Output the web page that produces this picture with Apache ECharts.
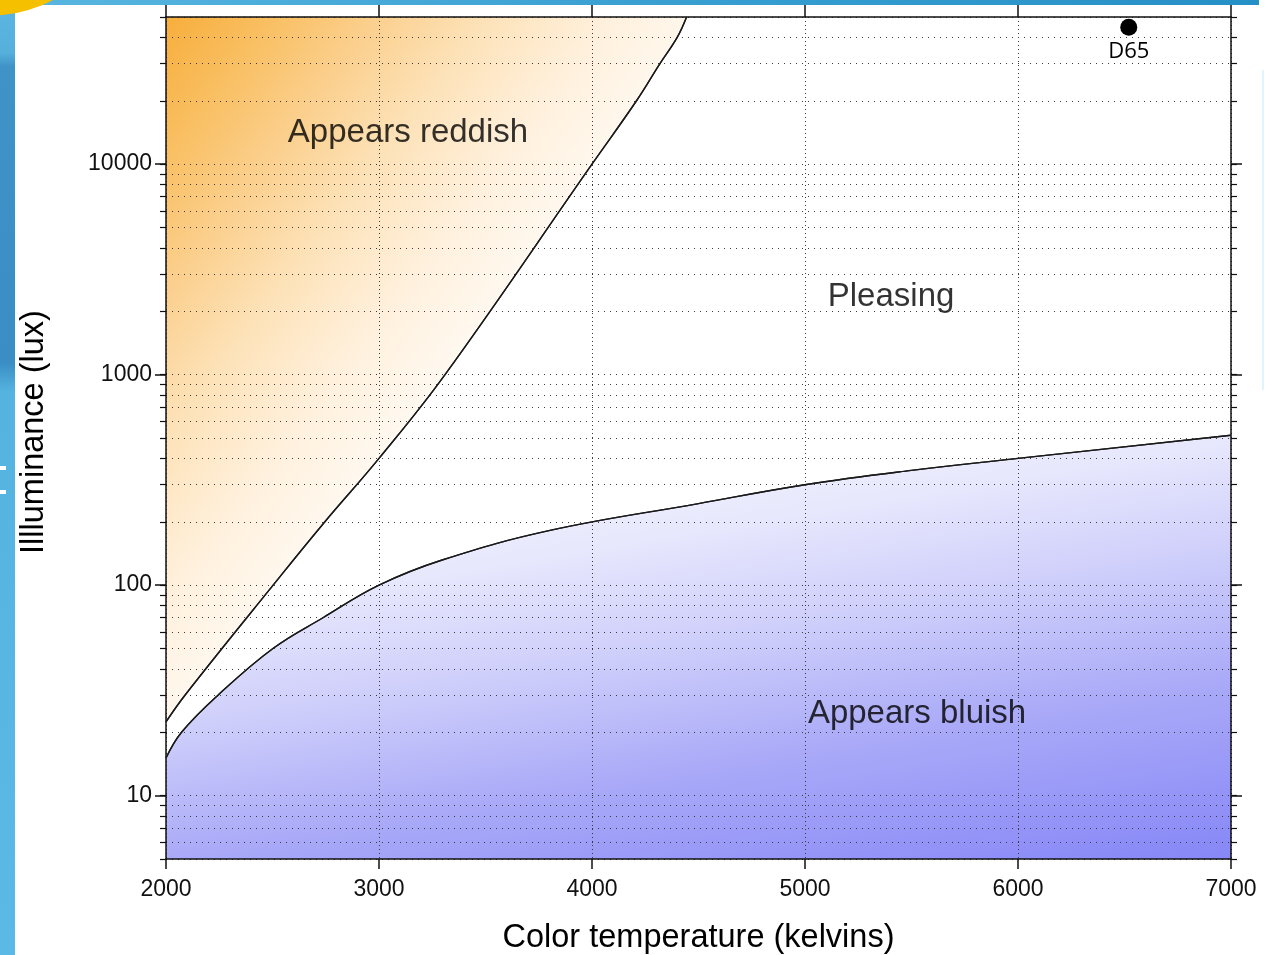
<!DOCTYPE html>
<html><head><meta charset="utf-8">
<script src="https://cdn.jsdelivr.net/npm/echarts@6/dist/echarts.min.js"></script>
<style>html,body{margin:0;padding:0;background:#fff}#c{width:1283px;height:955px}</style>
</head><body><div id="c"></div>
<script>
// ---- data ----
const xMin = 2000, xMax = 7000, xStep = 1000;
const yMin = 5, yMax = 50000;
const yMajorTicks = [10, 100, 1000, 10000];
const yMinorTicks = [5,6,7,8,9,10,20,30,40,50,60,70,80,90,100,200,300,400,500,600,700,800,900,
  1000,2000,3000,4000,5000,6000,7000,8000,9000,10000,20000,30000,40000,50000];
// upper boundary (reddish / pleasing)
const reddishTemp = [2000, 2089, 2503, 2746, 3000, 3310, 4000, 4209, 4319, 4400, 4444];
const reddishLux  = [22.4, 30, 100, 200, 400, 1000, 10000, 20000, 30000, 40000, 50000];
// lower boundary (pleasing / bluish)
const bluishTemp = [2000, 2073, 2244, 2502, 2737, 3000, 3300, 3803, 4500, 5000, 5500, 6000, 7000];
const bluishLux  = [15.1, 20, 30, 50, 70, 100, 132, 182, 244, 300, 351, 400, 515];
// annotations
const d65 = {temp: 6520, lux: 44700, name: 'D65'};
const regionNames = ['Appears reddish', 'Pleasing', 'Appears bluish'];
const regionTemp  = [3136, 5404, 5526];
const regionLux   = [14000, 2345, 24.5];
const xTitle = 'Color temperature (kelvins)';
const yTitle = 'Illluminance (lux)';

// ---- build ----
const L = v => Math.log10(v);
const FONT = "'Liberation Sans', Arial, sans-serif";
const pair = (xs, ys) => xs.map((x, i) => [x, L(ys[i])]);
const GRID_COLOR = '#3a3a3a';

const baseY = {
  type: 'value', min: L(yMin), max: L(yMax),
  axisLabel: {show: false}, splitLine: {show: false},
  axisLine: {show: false}
};
const curve = {type: 'line', smooth: 0.4, symbol: 'none'};

const chart = echarts.init(document.getElementById('c'), null, {renderer: 'canvas'});
chart.setOption({
  animation: false,
  backgroundColor: '#ffffff',
  grid: {left: 166, right: 52, top: 17, bottom: 96, containLabel: false, outerBoundsMode: 'none'},
  graphic: [
    {type: 'rect', shape: {x: 0, y: 0, width: 15, height: 955}, z: -10,
      style: {fill: new echarts.graphic.LinearGradient(0, 0, 0, 1, [
        {offset: 0, color: '#5cb6e1'}, {offset: 0.055, color: '#56b0dc'},
        {offset: 0.07, color: '#3f93c7'}, {offset: 0.38, color: '#3a8ec4'},
        {offset: 0.41, color: '#55b3df'}, {offset: 1, color: '#5ab9e5'}])}},
    {type: 'rect', shape: {x: 0, y: 0, width: 1259, height: 5}, z: -9,
      style: {fill: new echarts.graphic.LinearGradient(0, 0, 1, 0, [
        {offset: 0, color: '#5ab6e0'}, {offset: 0.5, color: '#3aa0d2'}, {offset: 1, color: '#2590c6'}])}},
    {type: 'circle', shape: {cx: -10, cy: -120, r: 135.5}, z: -8, style: {fill: '#f5c000'}},
    {type: 'rect', shape: {x: 0, y: 466, width: 6, height: 4}, z: -7, style: {fill: '#ffffff'}},
    {type: 'rect', shape: {x: 0, y: 490, width: 6, height: 4}, z: -7, style: {fill: '#ffffff'}},
    {type: 'rect', shape: {x: 1262, y: 70, width: 2, height: 320}, z: -7, style: {fill: '#e3f3fc'}}
  ],
  xAxis: [
    {type: 'value', min: xMin, max: xMax, interval: xStep, position: 'bottom', z: 3,
      axisLine: {show: true, lineStyle: {color: '#111', width: 1.5}},
      axisTick: {show: true, length: 10, lineStyle: {color: '#111', width: 1.5}},
      axisLabel: {show: true, fontSize: 23, color: '#111', fontFamily: FONT, margin: 19,
        formatter: v => String(v)},
      splitLine: {show: true, lineStyle: {color: GRID_COLOR, width: 1, type: [1, 3]}},
      name: xTitle, nameLocation: 'middle', nameGap: 63,
      nameTextStyle: {fontSize: 32.5, color: '#000', fontFamily: FONT}},
    {type: 'value', min: xMin, max: xMax, interval: xStep, position: 'top', z: 3,
      axisLine: {show: true, lineStyle: {color: '#111', width: 1.5}},
      axisTick: {show: true, length: 12, lineStyle: {color: '#111', width: 1.5}},
      axisLabel: {show: false}, splitLine: {show: false}}
  ],
  yAxis: [
    Object.assign({}, baseY, {position: 'left', z: 3,
      axisLine: {show: true, lineStyle: {color: '#111', width: 1.5}},
      axisTick: {show: true, length: 6, customValues: yMinorTicks.map(L), lineStyle: {color: '#111', width: 1.2}},
      axisLabel: {show: true, customValues: yMajorTicks.map(L), fontSize: 23, color: '#111', fontFamily: FONT, margin: 14,
        formatter: v => String(Math.round(Math.pow(10, v)))},
      splitLine: {show: true, lineStyle: {color: GRID_COLOR, width: 1, type: [1, 5]}},
      name: yTitle, nameLocation: 'middle', nameGap: 115,
      nameTextStyle: {fontSize: 32.5, color: '#000', fontFamily: FONT, padding: [0, 0, 0, 12]}}),
    Object.assign({}, baseY, {position: 'left', z: 3,
      axisTick: {show: true, length: 11, customValues: yMajorTicks.map(L), lineStyle: {color: '#111', width: 1.5}}}),
    Object.assign({}, baseY, {position: 'right', z: 3,
      axisLine: {show: true, lineStyle: {color: '#111', width: 1.5}},
      axisTick: {show: true, length: 6, customValues: yMinorTicks.map(L), lineStyle: {color: '#111', width: 1.2}}}),
    Object.assign({}, baseY, {position: 'right', z: 3,
      axisTick: {show: true, length: 11, customValues: yMajorTicks.map(L), lineStyle: {color: '#111', width: 1.5}}})
  ],
  series: [
    Object.assign({}, curve, {name: 'reddish', data: pair(reddishTemp, reddishLux), z: 1,
      lineStyle: {color: '#222', width: 1.4},
      areaStyle: {origin: 'end', opacity: 1, color: new echarts.graphic.LinearGradient(0, 0, 0.864, 0.487, [
        {offset: 0, color: '#f7ae3c'}, {offset: 0.15, color: '#f9bf62'}, {offset: 0.3, color: '#fbd08f'},
        {offset: 0.45, color: '#fde2b8'}, {offset: 0.62, color: '#fff0dc'}, {offset: 0.8, color: '#fffaf3'},
        {offset: 1, color: '#ffffff'}])}}),
    Object.assign({}, curve, {name: 'bluish', data: pair(bluishTemp, bluishLux), z: 1,
      lineStyle: {color: '#222', width: 1.4},
      areaStyle: {origin: 'start', opacity: 1, color: new echarts.graphic.LinearGradient(0, 0, 0.092, 1.38, [
        {offset: 0, color: '#ffffff'}, {offset: 0.3, color: '#e8e8fd'}, {offset: 0.5, color: '#cdcdfb'},
        {offset: 0.7, color: '#aaaaf8'}, {offset: 1, color: '#8787f7'}])}}),
    Object.assign({}, curve, {name: 'reddishEdge', data: pair(reddishTemp, reddishLux), z: 4,
      lineStyle: {color: '#1a1a1a', width: 1.4}}),
    Object.assign({}, curve, {name: 'bluishEdge', data: pair(bluishTemp, bluishLux), z: 4,
      lineStyle: {color: '#1a1a1a', width: 1.4}}),
    {type: 'scatter', name: 'D65', z: 5, symbol: 'circle', symbolSize: 17, itemStyle: {color: '#000', opacity: 1},
      data: [{name: d65.name, value: [d65.temp, L(d65.lux)]}],
      label: {show: true, position: 'bottom', distance: 5, formatter: '{b}', color: '#000', fontSize: 22,
        fontFamily: "'Open Sans', sans-serif"}},
    {type: 'scatter', name: 'regions', z: 5, symbolSize: 1, itemStyle: {color: 'rgba(0,0,0,0)'},
      data: regionNames.map((n, i) => ({name: n, value: [regionTemp[i], L(regionLux[i])]})),
      label: {show: true, position: 'inside', formatter: '{b}', color: '#000', fontSize: 33, fontFamily: FONT}}
  ]
});
</script></body></html>
